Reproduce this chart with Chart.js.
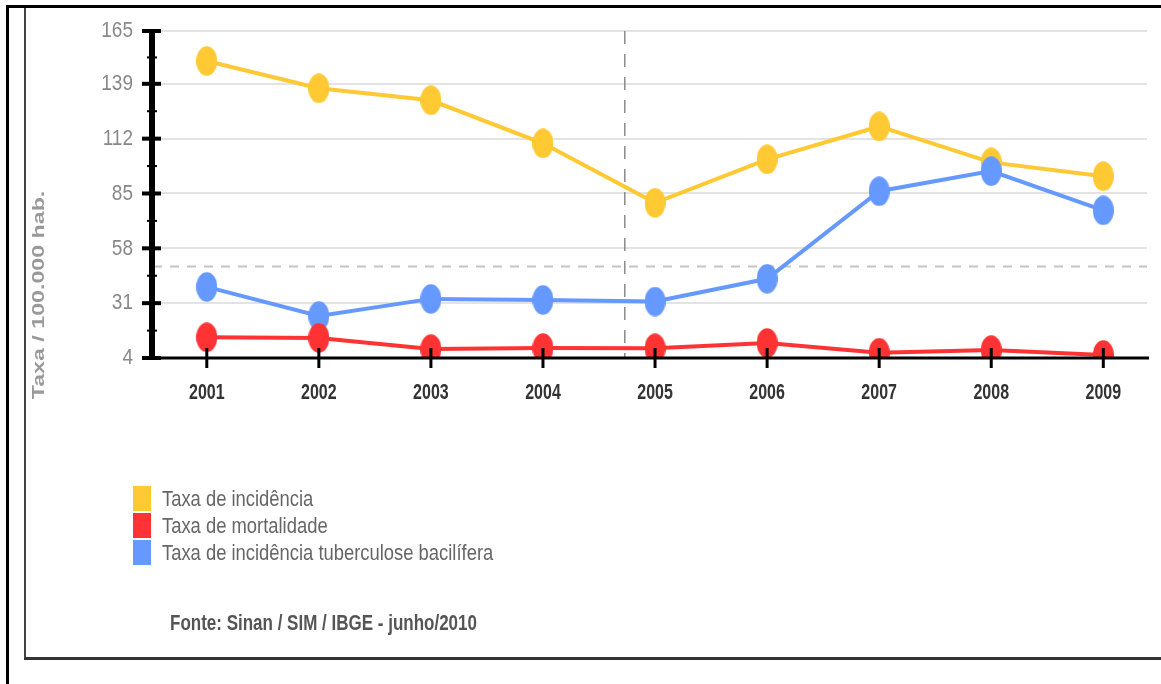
<!DOCTYPE html>
<html>
<head>
<meta charset="utf-8">
<script src="https://cdn.jsdelivr.net/npm/chart.js@4"></script>
<style>
  body { margin: 0; background: #fff; }
  #wrap { position: relative; width: 1161px; height: 684px; overflow: hidden; }
  #chart { position: absolute; left: 0; top: 0; }
  .outer { position: absolute; left: 6px; top: 5px; width: 1170px; height: 700px; border-left: 3px solid #000; border-top: 3px solid #000; }
  .inner { position: absolute; left: 24px; top: 8px; width: 1150px; height: 649px; border-left: 2px solid #444; border-bottom: 3px solid #333; }
  #legend { position: absolute; left: 133px; top: 486px; font-family: 'Liberation Sans', Arial, sans-serif; font-size: 18.4px; color: #666; }
  .item { position: relative; height: 27px; }
  .sw { position: absolute; left: 0; top: 0; width: 18px; height: 25px; }
  .lbl { position: absolute; left: 29px; top: 0; line-height: 25px; white-space: nowrap; transform: scaleY(1.2); transform-origin: left center; }
  #source { position: absolute; left: 170px; top: 611px; line-height: 24px; font-family: 'Liberation Sans', Arial, sans-serif; font-size: 17px; font-weight: bold; color: #555; white-space: nowrap; transform: scaleY(1.3); transform-origin: left center; }
</style>
</head>
<body>
<div id="wrap">
  <canvas id="chart" width="1161" height="684"></canvas>
  <div class="outer"></div>
  <div class="inner"></div>
  <div id="legend"></div>
  <div id="source">Fonte: Sinan / SIM / IBGE - junho/2010</div>
</div>
<script>
const years = [2001, 2002, 2003, 2004, 2005, 2006, 2007, 2008, 2009];
const yTicks = [4, 31, 58, 85, 112, 139, 165];

const incidencia = [150.2, 136.8, 130.9, 109.7, 80.4, 101.8, 118, 100.3, 93.5];
const mortalidade = [14.2, 13.9, 8.4, 8.9, 8.8, 11.4, 6.6, 7.9, 5.5];
const bacilifera = [39, 24.7, 33.1, 32.6, 31.8, 43, 86.1, 96, 76.7];

const seriesNames = ['Taxa de incidência', 'Taxa de mortalidade', 'Taxa de incidência tuberculose bacilífera'];
const seriesColors = ['#ffc933', '#ff3333', '#6699ff'];

const metaLine = 49;        // linha tracejada horizontal
const markYear = 2004.73;   // linha tracejada vertical

const sans = "'Liberation Sans', Arial, sans-serif";

function marker(color) {
    const c = document.createElement('canvas');
    c.width = 21;
    c.height = 30;
    const g = c.getContext('2d');
    g.fillStyle = color;
    g.beginPath();
    g.ellipse(10.5, 15, 10.5, 14.8, 0, 0, Math.PI * 2);
    g.fill();
    return c;
}

function makeDataset(i, data, order) {
    return {
        label: seriesNames[i],
        data: data,
        borderColor: seriesColors[i],
        backgroundColor: seriesColors[i],
        borderWidth: 4,
        tension: 0,
        pointStyle: marker(seriesColors[i]),
        pointRadius: 10,
        pointHoverRadius: 10,
        order: order
    };
}

// linhas tracejadas de referência
const refLines = {
    id: 'refLines',
    beforeDatasetsDraw(chart) {
        const { ctx, chartArea } = chart;
        const x = chart.scales.x, y = chart.scales.y;
        ctx.save();
        ctx.setLineDash([9, 8]);
        ctx.strokeStyle = '#c4c4c4';
        ctx.lineWidth = 2;
        const py = y.getPixelForValue(metaLine);
        ctx.beginPath();
        ctx.moveTo(chartArea.left, py);
        ctx.lineTo(chartArea.right, py);
        ctx.stroke();

        ctx.setLineDash([13, 10]);
        ctx.strokeStyle = '#8a8a8a';
        ctx.lineWidth = 1.5;
        const px = x.getPixelForValue(markYear);
        ctx.beginPath();
        ctx.moveTo(px, chartArea.top);
        ctx.lineTo(px, chartArea.bottom);
        ctx.stroke();
        ctx.restore();
    }
};

// eixos pretos com marcas, rótulos e título do eixo y
const axes = {
    id: 'axes',
    afterDatasetsDraw(chart) {
        const { ctx, chartArea } = chart;
        const x = chart.scales.x, y = chart.scales.y;
        const ax = chartArea.left - 1;
        ctx.save();
        ctx.strokeStyle = '#000';

        ctx.lineWidth = 6;
        ctx.beginPath();
        ctx.moveTo(ax, chartArea.top);
        ctx.lineTo(ax, chartArea.bottom + 1);
        ctx.stroke();

        ctx.lineWidth = 4;
        yTicks.forEach(v => {
            const p = y.getPixelForValue(v);
            ctx.beginPath();
            ctx.moveTo(ax - 10, p);
            ctx.lineTo(ax + 9, p);
            ctx.stroke();
        });
        ctx.lineWidth = 2;
        for (let i = 0; i < yTicks.length - 1; i++) {
            const p = y.getPixelForValue((yTicks[i] + yTicks[i + 1]) / 2);
            ctx.beginPath();
            ctx.moveTo(ax - 5, p);
            ctx.lineTo(ax + 5, p);
            ctx.stroke();
        }

        ctx.lineWidth = 3;
        ctx.beginPath();
        ctx.moveTo(ax - 10, chartArea.bottom);
        ctx.lineTo(chartArea.right + 2, chartArea.bottom);
        ctx.stroke();
        years.forEach(v => {
            const p = x.getPixelForValue(v);
            ctx.beginPath();
            ctx.moveTo(p, chartArea.bottom - 10);
            ctx.lineTo(p, chartArea.bottom + 10);
            ctx.stroke();
        });

        ctx.textBaseline = 'middle';

        // anos
        ctx.fillStyle = '#333';
        ctx.font = 'bold 16px ' + sans;
        ctx.textAlign = 'center';
        years.forEach(v => {
            ctx.save();
            ctx.translate(x.getPixelForValue(v), chartArea.bottom + 35);
            ctx.scale(1, 1.38);
            ctx.fillText(String(v), 0, 0);
            ctx.restore();
        });

        // valores do eixo y
        ctx.fillStyle = '#888';
        ctx.font = '19px ' + sans;
        ctx.textAlign = 'right';
        yTicks.forEach(v => {
            ctx.save();
            ctx.translate(133, y.getPixelForValue(v));
            ctx.scale(1, 1.2);
            ctx.fillText(String(v), 0, 0);
            ctx.restore();
        });

        ctx.textAlign = 'center';
        ctx.translate(40, 295);
        ctx.rotate(-Math.PI / 2);
        ctx.scale(1.45, 1);
        ctx.fillStyle = '#999';
        ctx.font = 'bold 16px ' + sans;
        ctx.fillText('Taxa / 100.000 hab.', 0, 0);
        ctx.restore();
    }
};

const ctx = document.getElementById('chart').getContext('2d');
const chart = new Chart(ctx, {
    type: 'line',
    data: {
        labels: years,
        datasets: [
            makeDataset(0, incidencia, 2),
            makeDataset(1, mortalidade, 0),
            makeDataset(2, bacilifera, 1)
        ]
    },
    options: {
        responsive: false,
        animation: false,
        layout: { padding: { left: 0, top: 31, right: 8, bottom: 266 } },
        plugins: {
            legend: { display: false },
            tooltip: { enabled: false }
        },
        scales: {
            x: {
                type: 'linear',
                min: 2000.52,
                max: 2009.39,
                afterBuildTicks: s => { s.ticks = years.map(v => ({ value: v })); },
                afterFit: s => { s.height = 60; },
                grid: { display: false },
                border: { display: false },
                ticks: { display: false }
            },
            y: {
                min: 4,
                max: 165,
                afterBuildTicks: s => { s.ticks = yTicks.map(v => ({ value: v })); },
                afterFit: s => { s.width = 153; },
                grid: { color: '#e3e3e3', lineWidth: 2, drawTicks: false },
                border: { display: false },
                ticks: { display: false }
            }
        }
    },
    plugins: [refLines, axes]
});

// legenda
const legend = document.getElementById('legend');
seriesNames.forEach((name, i) => {
    const item = document.createElement('div');
    item.className = 'item';
    item.innerHTML = '<div class="sw" style="background:' + seriesColors[i] + '"></div><div class="lbl">' + name + '</div>';
    legend.appendChild(item);
});
</script>
</body>
</html>
